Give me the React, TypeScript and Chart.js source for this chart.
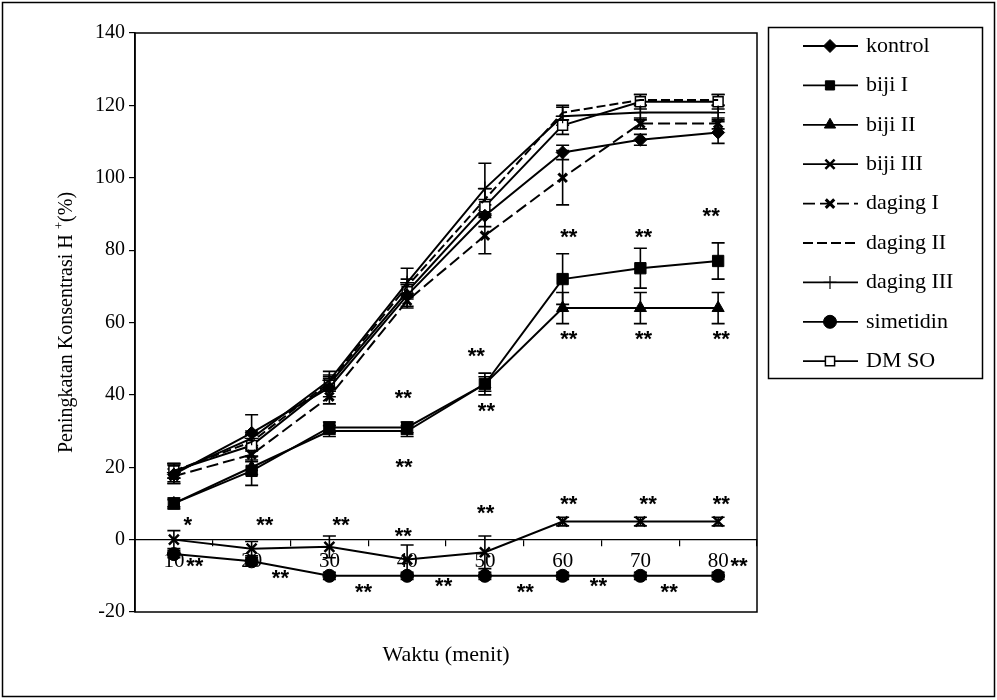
import React, { useEffect, useRef } from "react";
import { Chart, registerables } from "chart.js";
import { drawPoint } from "chart.js/helpers";
Chart.register(...registerables);

const minutes = ["10", "20", "30", "40", "50", "60", "70", "80"];

const kontrol = [18, 29.5, 42, 67.5, 89.5, 107, 110.5, 112.5];
const kontrolErr = [2.5, 5, 2.5, 3, 3, 2, 1.5, 3];
const bijiI = [10, 19, 31, 31, 43, 72, 75, 77];
const bijiIErr = [1.5, 4, 1.5, 1.5, 3, 7, 5.5, 5];
const bijiII = [10, 20, 30, 30, 43, 64, 64, 64];
const bijiIIErr = [1, 2, 1.5, 1.5, 2, 4.3, 4.3, 4.3];
const bijiIII = [0, -2.5, -2, -5.5, -3.5, 5, 5, 5];
const bijiIIIErr = [2.5, 2, 3, 4, 4.5, 1.2, 1.2, 1.2];
const dagingI = [17.5, 23.5, 39.5, 66, 84, 100, 115, 115];
const dagingIErr = [2, 2, 2, 2, 5, 7.5, 1.5, 1.5];
const dagingII = [19, 27, 43.5, 70, 94, 118, 121.5, 121.5];
const dagingIIErr = [2, 2, 2, 2, 3, 2, 1.5, 1.5];
const dagingIII = [18.5, 28, 44, 71, 97, 117, 118, 118];
const dagingIIIErr = [2.5, 2, 2.5, 4, 7, 2.5, 2, 2];
const simetidin = [-4, -6, -10, -10, -10, -10, -10, -10];
const simetidinErr = [1, 1, 1, 1, 1, 1, 1, 1];
const dmso = [19, 26, 43, 68.5, 92, 114.5, 121, 121];
const dmsoErr = [2, 3, 2, 2, 2, 2.5, 2, 2];

const seriesLabels = ["kontrol", "biji I", "biji II", "biji III", "daging I", "daging II", "daging III", "simetidin", "DM SO"];
const seriesValues = [kontrol, bijiI, bijiII, bijiIII, dagingI, dagingII, dagingIII, simetidin, dmso];
const seriesErrors = [kontrolErr, bijiIErr, bijiIIErr, bijiIIIErr, dagingIErr, dagingIIErr, dagingIIIErr, simetidinErr, dmsoErr];

const yMin = -20;
const yMax = 140;
const yStep = 20;

// significance marks: x in minutes, y in % units
const sigX = [11.8, 21.7, 31.5, 39.5, 50.1, 60.8, 71.0, 80.4, 12.7, 23.7, 34.4, 44.7, 55.2, 64.6, 73.7, 82.7, 39.5, 39.6, 48.9, 50.2, 60.8, 60.8, 70.4, 70.4, 79.1, 80.4];
const sigY = [5.1, 5.1, 5.1, 2.1, 8.5, 11.1, 11.1, 11.1, -6.2, -9.5, -13.4, -11.7, -13.4, -11.7, -13.4, -6.2, 40.3, 21.2, 51.9, 36.7, 84.8, 56.6, 84.8, 56.6, 90.6, 56.6];
const sigText = ["*", "**", "**", "**", "**", "**", "**", "**", "**", "**", "**", "**", "**", "**", "**", "**", "**", "**", "**", "**", "**", "**", "**", "**", "**", "**"];

const yTitleMain = "Peningkatan Konsentrasi H ";
const yTitleSup = "+";
const yTitleEnd = "(%)";
const xTitle = "Waktu (menit)";

const SERIF = "'Liberation Serif', 'Times New Roman', serif";

const styles: any[] = [
  { pointStyle: "rectRot", radius: 6.5, fill: "#000", dash: [] },
  { pointStyle: "rect", radius: 8, fill: "#000", dash: [] },
  { pointStyle: "triangle", radius: 7, fill: "#000", dash: [] },
  { pointStyle: "crossRot", radius: 7, fill: "#000", dash: [], bw: 2.5 },
  { pointStyle: "crossRot", radius: 6, fill: "#000", dash: [12, 5], bw: 3 },
  { pointStyle: false, radius: 0, fill: "#000", dash: [9, 4] },
  { pointStyle: "cross", radius: 7, fill: "#000", dash: [], bw: 1.2 },
  { pointStyle: "circle", radius: 6.5, fill: "#000", dash: [] },
  { pointStyle: "rect", radius: 7, fill: "#fff", dash: [], bw: 1.5 },
];

export default function App() {
  const ref = useRef<HTMLCanvasElement | null>(null);
  useEffect(() => {
    if (!ref.current) return;
    const datasets = seriesValues.map((vals, i) => ({
      label: seriesLabels[i],
      data: vals,
      borderColor: "#000",
      borderWidth: 2,
      borderDash: styles[i].dash,
      pointStyle: styles[i].pointStyle,
      pointRadius: styles[i].radius,
      pointBackgroundColor: styles[i].fill,
      pointBorderColor: "#000",
      pointBorderWidth: styles[i].bw || 1,
      tension: 0,
      fill: false,
    }));

    const framePlugin = {
      id: "frame",
      beforeDraw(chart: any) {
        const ctx = chart.ctx;
        ctx.save();
        ctx.fillStyle = "#fff";
        ctx.fillRect(0, 0, chart.width, chart.height);
        ctx.strokeStyle = "#000";
        ctx.lineWidth = 1.5;
        ctx.strokeRect(2.5, 2.5, 992, 694);
        ctx.restore();
      },
      beforeDatasetsDraw(chart: any) {
        const ctx = chart.ctx;
        const ys = chart.scales.y;
        ctx.save();
        ctx.strokeStyle = "#000";
        ctx.lineWidth = 1.6;
        chart.data.datasets.forEach((ds: any, i: number) => {
          const meta = chart.getDatasetMeta(i);
          const errs = seriesErrors[i];
          meta.data.forEach((pt: any, j: number) => {
            const v = ds.data[j];
            const e = errs[j];
            const x = pt.x;
            const yt = ys.getPixelForValue(v + e);
            const yb = ys.getPixelForValue(v - e);
            ctx.beginPath();
            ctx.moveTo(x, yt);
            ctx.lineTo(x, yb);
            ctx.moveTo(x - 6.5, yt);
            ctx.lineTo(x + 6.5, yt);
            ctx.moveTo(x - 6.5, yb);
            ctx.lineTo(x + 6.5, yb);
            ctx.stroke();
          });
        });
        ctx.restore();
      },
      afterDraw(chart: any) {
        const ctx = chart.ctx;
        const ca = chart.chartArea;
        const xs = chart.scales.x;
        const ys = chart.scales.y;
        ctx.save();
        ctx.strokeStyle = "#000";
        ctx.lineWidth = 1.5;
        ctx.strokeRect(ca.left, ca.top, ca.right - ca.left, ca.bottom - ca.top);

        // significance marks
        const p0 = xs.getPixelForValue(0);
        const p1 = xs.getPixelForValue(minutes.length - 1);
        ctx.fillStyle = "#000";
        ctx.font = "bold 22px 'Liberation Sans', Arial, sans-serif";
        ctx.textAlign = "center";
        ctx.textBaseline = "middle";
        sigText.forEach((t, k) => {
          const px = p0 + ((sigX[k] - 10) / 70) * (p1 - p0);
          const py = ys.getPixelForValue(sigY[k]);
          ctx.fillText(t, px, py + 5);
        });

        // x title
        ctx.font = `22px ${SERIF}`;
        ctx.textBaseline = "middle";
        ctx.fillText(xTitle, (ca.left + ca.right) / 2, 655);

        // y title
        ctx.save();
        ctx.translate(67, (ca.top + ca.bottom) / 2);
        ctx.rotate(-Math.PI / 2);
        ctx.font = `20px ${SERIF}`;
        const w1 = ctx.measureText(yTitleMain).width;
        const w3 = ctx.measureText(yTitleEnd).width;
        ctx.font = `13px ${SERIF}`;
        const w2 = ctx.measureText(yTitleSup).width;
        const total = w1 + w2 + w3;
        let sx = -total / 2;
        ctx.textAlign = "left";
        ctx.font = `20px ${SERIF}`;
        ctx.fillText(yTitleMain, sx, 0);
        sx += w1;
        ctx.font = `13px ${SERIF}`;
        ctx.fillText(yTitleSup, sx, -7);
        sx += w2;
        ctx.font = `20px ${SERIF}`;
        ctx.fillText(yTitleEnd, sx, 0);
        ctx.restore();

        // legend
        ctx.lineWidth = 1.5;
        ctx.strokeRect(768.5, 27.5, 214, 351);
        chart.data.datasets.forEach((ds: any, i: number) => {
          const y = 46 + i * 39.4;
          ctx.save();
          ctx.strokeStyle = "#000";
          ctx.lineWidth = 1.8;
          ctx.setLineDash(styles[i].dash.length ? [12, 5] : []);
          if (i === 5) ctx.setLineDash([10, 4]);
          ctx.beginPath();
          ctx.moveTo(803, y);
          ctx.lineTo(858, y);
          ctx.stroke();
          ctx.setLineDash([]);
          if (styles[i].pointStyle) {
            ctx.fillStyle = styles[i].fill;
            ctx.lineWidth = styles[i].bw || 1;
            const r = Math.min(styles[i].radius, 6.5);
            drawPoint(ctx, { pointStyle: styles[i].pointStyle, radius: r, rotation: 0, borderWidth: styles[i].bw || 1 } as any, 830, y);
          }
          ctx.restore();
          ctx.fillStyle = "#000";
          ctx.font = `22px ${SERIF}`;
          ctx.textAlign = "left";
          ctx.textBaseline = "middle";
          ctx.fillText(ds.label, 866, y);
        });
        ctx.restore();
      },
    };

    const chart = new Chart(ref.current, {
      type: "line",
      data: { labels: minutes, datasets: datasets as any },
      options: {
        animation: false,
        responsive: false,
        maintainAspectRatio: false,
        layout: { padding: { left: 0, top: 33, right: 240, bottom: 88 } },
        plugins: { legend: { display: false }, tooltip: { enabled: false } },
        scales: {
          x: {
            type: "category",
            position: { y: 0 } as any,
            offset: true,
            grid: { offset: true, drawOnChartArea: false, drawTicks: true, tickLength: 6, color: "#000", lineWidth: 1.2 },
            border: { display: true, color: "#000", width: 1.2 },
            ticks: { color: "#000", font: { family: SERIF, size: 21 }, padding: 3, maxRotation: 0, autoSkip: false },
          },
          y: {
            min: yMin,
            max: yMax,
            ticks: { stepSize: yStep, color: "#000", font: { family: SERIF, size: 20 }, padding: 4 },
            grid: { drawOnChartArea: false, drawTicks: true, tickLength: 6, color: "#000", lineWidth: 1.2 },
            border: { display: true, color: "#000", width: 1.5 },
            afterFit: (s: any) => { s.width = 135; },
          },
        },
      },
      plugins: [framePlugin],
    });
    return () => chart.destroy();
  }, []);
  return (
    <div style={{ position: "fixed", left: 0, top: 0, width: 997, height: 700, background: "#fff" }}>
      <canvas ref={ref} width={997} height={700} style={{ display: "block" }} />
    </div>
  );
}
